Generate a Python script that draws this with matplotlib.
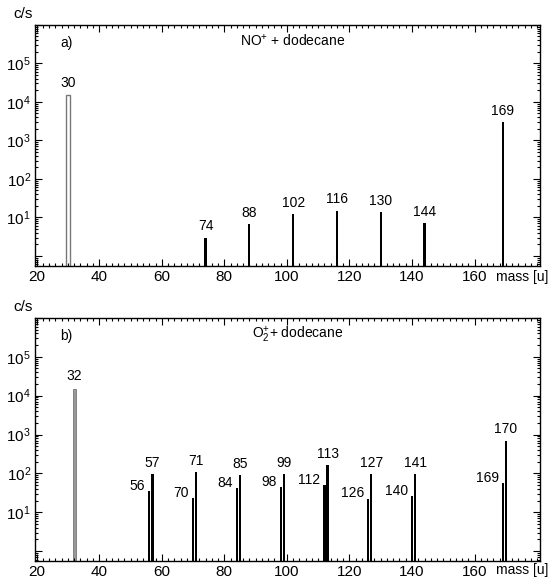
"""
Mass spectra of dodecane with NO+ and O2+ precursor ions (log scale).
"""

import matplotlib
matplotlib.use("Agg")
import matplotlib.pyplot as plt
from matplotlib.ticker import FixedLocator, MultipleLocator, NullFormatter

plt.rcParams["font.family"] = ["Liberation Sans", "DejaVu Sans"]
plt.rcParams["mathtext.fontset"] = "custom"
plt.rcParams["mathtext.rm"] = "Liberation Sans"
plt.rcParams["mathtext.it"] = "Liberation Sans:italic"
plt.rcParams["mathtext.bf"] = "Liberation Sans:bold"

# panel a) NO+ + dodecane
no_precursor_mass = 30
no_precursor_counts = 1.5e4
no_masses = [74, 88, 102, 116, 130, 144, 169]
no_counts = [3.0, 6.6, 12, 15, 14, 7, 3000]

# panel b) O2+ + dodecane
o2_precursor_mass = 32
o2_precursor_counts = 1.5e4
o2_masses = [56, 57, 70, 71, 84, 85, 98, 99, 112, 113, 126, 127, 140, 141, 169, 170]
o2_counts = [35, 94, 23, 106, 41, 89, 44, 94, 49, 160, 22, 94, 26, 94, 55, 700]

x_ticks = [20, 40, 60, 80, 100, 120, 140, 160]
y_ticks = [1, 10, 100, 1e3, 1e4, 1e5, 1e6]
y_tick_labels = ["", "$10^1$", "$10^2$", "$10^3$", "$10^4$", "$10^5$", ""]

FS = 10


def style_axis(ax):
    ax.set_yscale("log")
    ax.set_xlim(19.5, 181)
    ax.set_ylim(0.55, 1e6)
    ax.xaxis.set_major_locator(FixedLocator(x_ticks))
    ax.xaxis.set_minor_locator(MultipleLocator(2))
    ax.set_xticklabels([str(t) for t in x_ticks], fontsize=FS + 1)
    ax.yaxis.set_major_locator(FixedLocator(y_ticks))
    ax.set_yticklabels(y_tick_labels, fontsize=FS + 1)
    ax.yaxis.set_minor_locator(
        matplotlib.ticker.LogLocator(base=10, subs=range(2, 10), numticks=20)
    )
    ax.yaxis.set_minor_formatter(NullFormatter())
    ax.tick_params(which="both", direction="in", top=True, right=True, width=0.8)
    ax.tick_params(which="major", length=5, pad=3)
    ax.tick_params(which="minor", length=2.5)
    for sp in ax.spines.values():
        sp.set_linewidth(1.0)


def label_bars(ax, masses, counts):
    mass_set = set(masses)
    for m, c in zip(masses, counts):
        if m + 1 in mass_set:
            # lower member of a pair: label sits on the left
            ax.annotate(str(m), (m, c), xytext=(-3, 4), textcoords="offset points",
                        ha="right", va="center", fontsize=FS)
        else:
            ax.annotate(str(m), (m, c), xytext=(0, 3), textcoords="offset points",
                        ha="center", va="bottom", fontsize=FS)


fig = plt.figure(figsize=(5.49, 5.78), dpi=100)
ax1 = fig.add_axes([0.064, 0.540, 0.920, 0.417])
ax2 = fig.add_axes([0.064, 0.029, 0.920, 0.421])

# Plot a
style_axis(ax1)
ax1.bar([no_precursor_mass], [no_precursor_counts], width=1.3, bottom=1e-3,
        facecolor="white", edgecolor="#777777", linewidth=1.0)
ax1.annotate(str(no_precursor_mass), (no_precursor_mass, no_precursor_counts),
             xytext=(0, 4), textcoords="offset points", ha="center", va="bottom", fontsize=FS)
ax1.bar(no_masses, no_counts, width=0.7, bottom=1e-3, color="black")
label_bars(ax1, no_masses, no_counts)
ax1.text(0.05, 0.925, "a)", transform=ax1.transAxes, fontsize=FS, va="center")
ax1.text(0.51, 0.935, "NO$^{+}$ + dodecane", transform=ax1.transAxes, fontsize=FS,
         ha="center", va="center")

# Plot b
style_axis(ax2)
ax2.bar([o2_precursor_mass], [o2_precursor_counts], width=0.9, bottom=1e-3,
        facecolor="#999999", edgecolor="#777777", linewidth=0.6)
ax2.annotate(str(o2_precursor_mass), (o2_precursor_mass, o2_precursor_counts),
             xytext=(0, 4), textcoords="offset points", ha="center", va="bottom", fontsize=FS)
ax2.bar(o2_masses, o2_counts, width=0.7, bottom=1e-3, color="black")
label_bars(ax2, o2_masses, o2_counts)
ax2.text(0.05, 0.925, "b)", transform=ax2.transAxes, fontsize=FS, va="center")
ax2.text(0.52, 0.93, "O$_2^{+}$+ dodecane", transform=ax2.transAxes, fontsize=FS,
         ha="center", va="center")

# axis captions
fig.text(0.025, 0.975, "c/s", fontsize=FS + 1, va="center")
fig.text(0.025, 0.468, "c/s", fontsize=FS + 1, va="center")
fig.text(0.952, 0.521, "mass [u]", fontsize=FS, ha="center", va="center")
fig.text(0.952, 0.014, "mass [u]", fontsize=FS, ha="center", va="center")

fig.savefig("out.png", dpi=100)
